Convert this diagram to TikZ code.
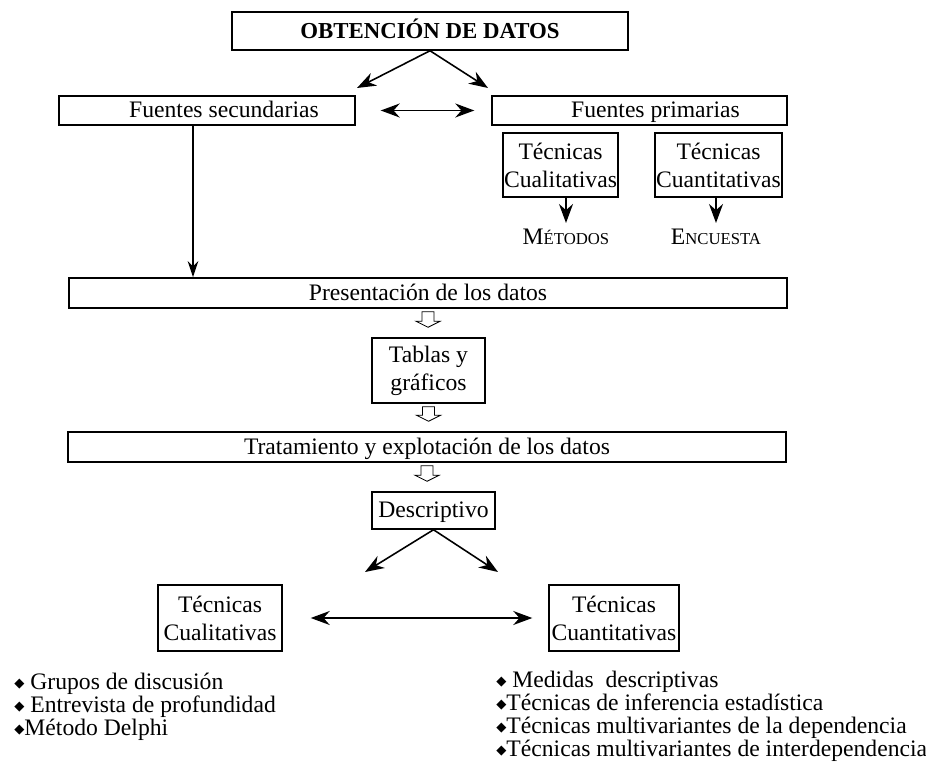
\documentclass[tikz,border=0pt]{standalone}
\usepackage{fontspec}
\setmainfont{Liberation Serif}
\newfontfamily\symbfont{DejaVu Sans}
\usepackage{tikz}
\usetikzlibrary{arrows.meta,calc}

\newcommand\smcaps[2]{#1{\fontsize{9.5}{12}\selectfont #2}}
\newcommand\diam{{\symbfont\fontsize{7.5}{7.5}\selectfont\raisebox{0.3ex}{◆}}}
\newcommand\hollowarrow[2]{%
  \draw[hollow] ($(#1.south)+(-6,3)$) -- ($(#1.south |- #2.north)+(-6,-16)$) -- ++(-6,0)
    -- ($(#1.south |- #2.north)+(0,-10)$) -- ($(#1.south |- #2.north)+(12,-16)$) -- ++(-6,0)
    -- ($(#1.south)+(6,3)$) -- cycle;}

\begin{document}
\begin{tikzpicture}[x=0.02cm,y=-0.02cm,
    font=\fontsize{13.45}{16}\selectfont,
    box/.style={draw,line width=0.85pt,inner sep=0pt,align=center},
    oneline/.style={text height=2.1ex,text depth=0.3ex},
    arr/.style={line width=0.9pt,-{Stealth[length=3.8mm,width=2.8mm]}},
    dblarr/.style={line width=0.9pt,{Stealth[length=3.8mm,width=2.8mm]}-{Stealth[length=3.8mm,width=2.8mm]}},
    hollow/.style={line width=0.5pt},
    bullets/.style={anchor=north west,inner sep=0pt,align=left,font=\fontsize{13.45}{13.1}\selectfont}]

    \useasboundingbox (0,0) rectangle (926,770);

    % Top part
    \node[box,oneline,minimum width=7.92cm,minimum height=0.76cm] (obt) at (430,31) {\fontsize{13}{16}\selectfont\textbf{OBTENCIÓN DE DATOS}};
    \node[box,oneline,minimum width=5.92cm,minimum height=0.58cm] (sec) at (207,110.5) {\hspace*{0.68cm}Fuentes secundarias};
    \node[box,oneline,minimum width=5.9cm,minimum height=0.58cm] (prim) at (639.5,110.5) {\hspace*{0.64cm}Fuentes primarias};
    \node[box,minimum width=2.3cm,minimum height=1.28cm] (cual) at (560.5,165) {Técnicas\\Cualitativas};
    \node[box,minimum width=2.54cm,minimum height=1.28cm] (cuan) at (718.5,165) {Técnicas\\Cuantitativas};
    \node (met) at (566,237) {\smcaps{M}{ÉTODOS}};
    \node (enc) at (716,237) {\smcaps{E}{NCUESTA}};

    \coordinate (secend) at (357,88);
    \coordinate (primend) at (488,88);
    \draw[arr] (obt.south) -- (secend);
    \draw[arr] (obt.south) -- (primend);
    \draw[dblarr,shorten <=0.5cm,shorten >=0.34cm] (sec) -- (prim);
    \draw[arr] (cual.south -| met) -- (met.north);
    \draw[arr] (cuan.south -| enc) -- (enc.north);

    % Middle column
    \node[box,oneline,minimum width=14.36cm,minimum height=0.6cm] (pres) at (428,293) {Presentación de los datos};
    \node[box,minimum width=2.26cm,minimum height=1.3cm] (tab) at (428.5,370.5) {Tablas y\\gráficos};
    \node[box,oneline,minimum width=14.36cm,minimum height=0.6cm] (trat) at (427,447) {Tratamiento y explotación de los datos};
    \node[box,oneline,minimum width=2.46cm,minimum height=0.74cm] (desc) at (433.5,510.5) {Descriptivo};

    \draw[line width=0.9pt,-{Stealth[length=3.2mm,width=2.1mm]}] ([xshift=-0.28cm]sec.south) -- ([xshift=-0.28cm]sec.south |- pres.north);
    \hollowarrow{pres}{tab}
    \hollowarrow{tab}{trat}
    \hollowarrow{trat}{desc}

    % Bottom part
    \node[box,minimum width=2.48cm,minimum height=1.32cm] (cual2) at (220,618) {Técnicas\\Cualitativas};
    \node[box,minimum width=2.6cm,minimum height=1.32cm] (cuan2) at (614,618) {Técnicas\\Cuantitativas};

    \coordinate (cualend) at (365,572);
    \coordinate (cuanend) at (498,572);
    \draw[arr] (desc.south) -- (cualend);
    \draw[arr] (desc.south) -- (cuanend);
    \draw[dblarr,shorten <=0.56cm,shorten >=0.32cm] (cual2) -- (cuan2);

    \node[bullets] (listcual) at (14,673) {\diam\ Grupos de discusión\\\diam\ Entrevista de profundidad\\\diam Método Delphi};
    \node[bullets] (listcuan) at (496,671) {\diam\ Medidas\ \ descriptivas\\\diam Técnicas de inferencia estadística\\\diam Técnicas multivariantes de la dependencia\\\diam Técnicas multivariantes de interdependencia};

\end{tikzpicture}
\end{document}
